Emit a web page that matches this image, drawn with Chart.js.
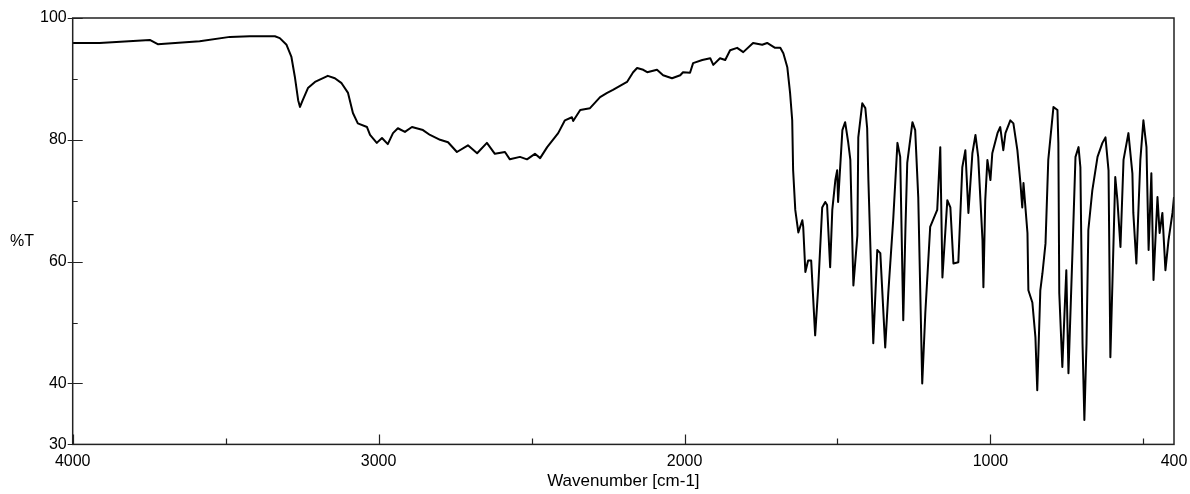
<!DOCTYPE html>
<html>
<head>
<meta charset="utf-8">
<script src="https://cdn.jsdelivr.net/npm/chart.js@4.4.1/dist/chart.umd.min.js"></script>
<style>
  html, body { margin: 0; padding: 0; background: #fff; }
  #wrap { width: 1190px; height: 494px; }
</style>
</head>
<body>
<div id="wrap"><canvas id="ir"></canvas></div>
<script>
// IR spectrum
const wavenumbers = [
  4000, 3912, 3748, 3722, 3585, 3486, 3421, 3339, 3323, 3301, 3285, 3274, 3263, 3257, 3248, 3231,
  3208, 3166, 3143, 3121, 3100, 3084, 3068, 3038, 3028, 3006, 2989, 2970, 2953, 2937, 2914, 2891,
  2855, 2832, 2799, 2773, 2744, 2708, 2678, 2646, 2620, 2587, 2571, 2538, 2515, 2489, 2472, 2449,
  2413, 2391, 2368, 2364, 2341, 2309, 2276, 2253, 2234, 2188, 2168, 2155, 2135, 2122, 2090, 2070,
  2041, 2014, 2005, 1982, 1972, 1942, 1916, 1906, 1884, 1867, 1851, 1828, 1808, 1776, 1746, 1730,
  1704, 1687, 1677, 1664, 1655, 1648, 1645, 1638, 1628, 1615, 1612, 1605, 1596, 1586, 1573, 1563,
  1550, 1540, 1534, 1524, 1517, 1507, 1501, 1498, 1484, 1475, 1465, 1458, 1448, 1435, 1432, 1419,
  1409, 1403, 1399, 1383, 1370, 1360, 1344, 1334, 1318, 1304, 1295, 1285, 1278, 1272, 1255, 1246,
  1236, 1223, 1213, 1197, 1174, 1164, 1157, 1141, 1131, 1121, 1105, 1092, 1082, 1072, 1059, 1049,
  1040, 1026, 1023, 1017, 1010, 1000, 994, 977, 968, 958, 951, 935, 925, 912, 902, 896,
  892, 879, 876, 863, 853, 847, 837, 830, 820, 811, 794, 781, 778, 775, 765, 758,
  752, 745, 732, 722, 712, 706, 699, 693, 686, 680, 667, 650, 634, 624, 614, 608,
  601, 592, 585, 575, 565, 549, 536, 533, 523, 510, 500, 490, 483, 474, 467, 454,
  447, 438, 428, 418, 405, 400
];
const transmittance = [
  95.9, 95.9, 96.4, 95.7, 96.2, 96.9, 97.0, 97.0, 96.7, 95.6, 93.6, 90.4, 86.5, 85.4, 86.5, 88.5,
  89.5, 90.5, 90.1, 89.3, 87.7, 84.4, 82.7, 82.1, 80.8, 79.5, 80.3, 79.3, 81.1, 81.9, 81.3, 82.1,
  81.6, 80.8, 80.0, 79.6, 78.0, 79.1, 77.8, 79.5, 77.7, 78.0, 76.8, 77.2, 76.8, 77.7, 77.0, 78.8,
  81.1, 83.2, 83.7, 83.1, 84.9, 85.2, 87.0, 87.7, 88.2, 89.5, 91.1, 91.8, 91.5, 91.1, 91.5, 90.6,
  90.1, 90.6, 91.1, 91.0, 92.6, 93.1, 93.4, 92.3, 93.4, 93.1, 94.7, 95.1, 94.4, 95.9, 95.6, 95.9,
  95.1, 95.1, 94.2, 91.9, 87.7, 83.2, 75.0, 68.5, 64.8, 66.8, 65.7, 58.3, 60.2, 60.2, 47.9, 55.8,
  68.9, 69.8, 69.3, 59.1, 68.5, 73.4, 75.0, 69.8, 81.6, 82.9, 79.6, 76.7, 56.1, 64.3, 80.4, 86.0,
  85.2, 81.9, 73.4, 46.6, 61.9, 61.4, 45.9, 54.8, 66.8, 79.5, 77.2, 50.4, 65.2, 76.2, 82.9, 81.6,
  70.6, 40.0, 51.5, 65.7, 68.5, 78.8, 57.4, 70.1, 68.9, 59.7, 59.9, 75.5, 78.3, 68.0, 77.8, 80.8,
  77.2, 63.5, 55.8, 70.1, 76.7, 73.4, 77.8, 81.1, 82.1, 78.3, 81.1, 83.2, 82.7, 78.3, 72.9, 68.9,
  72.9, 64.7, 55.3, 53.3, 47.6, 38.9, 55.3, 58.1, 63.0, 76.7, 85.4, 84.9, 79.5, 54.8, 42.7, 51.5,
  58.6, 41.7, 61.4, 77.2, 78.8, 75.5, 46.6, 34.0, 46.6, 65.2, 71.7, 77.2, 79.5, 80.4, 75.0, 44.3,
  57.0, 73.9, 70.1, 62.4, 76.7, 81.1, 74.5, 68.0, 59.7, 76.7, 83.2, 78.8, 61.9, 74.5, 57.0, 70.6,
  64.7, 68.0, 58.6, 63.5, 68.0, 70.6
];

const xTicks = [4000, 3500, 3000, 2500, 2000, 1500, 1000, 500, 400];
const xLabels = [4000, 3000, 2000, 1000, 400];
const xMajor = [4000, 3000, 2000, 1000];
const xMinor = [3500, 2500, 1500, 500];
const yTicks = [30, 40, 50, 60, 70, 80, 90, 100];
const yLabels = [100, 80, 60, 40, 30];

const points = wavenumbers.map((w, i) => ({ x: w, y: transmittance[i] }));

// frame, inward tick marks and the horizontal %T label
const framePlugin = {
  id: "frame",
  afterDraw(chart) {
    const { ctx, chartArea: a, scales } = chart;
    ctx.save();
    ctx.strokeStyle = "#222";
    ctx.lineWidth = 1.5;
    ctx.strokeRect(a.left, a.top, a.right - a.left, a.bottom - a.top);

    ctx.lineWidth = 1.2;
    ctx.beginPath();
    yTicks.forEach((v) => {
      const y = Math.round(scales.y.getPixelForValue(v)) + 0.5;
      if (yLabels.includes(v)) {
        ctx.moveTo(a.left - 5, y);
        ctx.lineTo(a.left + 10, y);
      } else {
        ctx.moveTo(a.left, y);
        ctx.lineTo(a.left + 5, y);
      }
    });
    xMajor.forEach((v) => {
      const x = Math.round(scales.x.getPixelForValue(v)) + 0.5;
      ctx.moveTo(x, a.bottom);
      ctx.lineTo(x, a.bottom - 10);
    });
    xMinor.forEach((v) => {
      const x = Math.round(scales.x.getPixelForValue(v)) + 0.5;
      ctx.moveTo(x, a.bottom);
      ctx.lineTo(x, a.bottom - 6);
    });
    ctx.stroke();

    ctx.fillStyle = "#000";
    ctx.font = "16px 'Liberation Sans', Arial, sans-serif";
    ctx.textAlign = "center";
    ctx.textBaseline = "middle";
    ctx.fillText("%T", 22, (a.top + a.bottom) / 2 + 10);
    ctx.restore();
  },
};

const chart = new Chart(document.getElementById("ir"), {
  type: "line",
  data: {
    datasets: [
      {
        data: points,
        borderColor: "#000",
        borderWidth: 2,
        borderJoinStyle: "round",
        pointRadius: 0,
        tension: 0,
        fill: false,
      },
    ],
  },
  options: {
    responsive: true,
    maintainAspectRatio: false,
    animation: false,
    layout: { padding: { left: 34, right: 16, top: 18, bottom: 2 } },
    plugins: { legend: { display: false }, tooltip: { enabled: false } },
    scales: {
      x: {
        type: "linear",
        reverse: true,
        min: 400,
        max: 4000,
        afterBuildTicks: (s) => { s.ticks = xTicks.map((v) => ({ value: v })); },
        // let the end labels hang over the margins
        afterFit: (s) => { s.paddingLeft = 0; s.paddingRight = 0; },
        grid: { display: false, drawTicks: false },
        border: { display: false },
        ticks: {
          autoSkip: false,
          maxRotation: 0,
          padding: 8,
          color: "#000",
          font: { family: "'Liberation Sans', Arial, sans-serif", size: 16 },
          callback: (v) => (xLabels.includes(v) ? String(v) : ""),
        },
        title: {
          display: true,
          text: "Wavenumber [cm-1]",
          color: "#000",
          padding: { top: -8, bottom: 0 },
          font: { family: "'Liberation Sans', Arial, sans-serif", size: 17 },
        },
      },
      y: {
        min: 30,
        max: 100,
        afterBuildTicks: (s) => { s.ticks = yTicks.map((v) => ({ value: v })); },
        afterFit: (s) => { s.paddingTop = 0; s.paddingBottom = 0; },
        grid: { display: false, drawTicks: false },
        border: { display: false },
        ticks: {
          autoSkip: false,
          padding: 6,
          color: "#000",
          font: { family: "'Liberation Sans', Arial, sans-serif", size: 16 },
          callback: (v) => (yLabels.includes(v) ? String(v) : ""),
        },
      },
    },
  },
  plugins: [framePlugin],
});
</script>
</body>
</html>
